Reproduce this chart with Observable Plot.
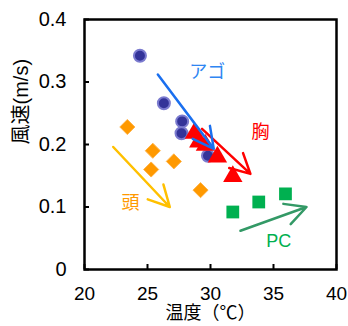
<!DOCTYPE html>
<html>
<head>
<meta charset="utf-8">
<script src="https://cdn.jsdelivr.net/npm/d3@7"></script>
<script src="https://cdn.jsdelivr.net/npm/@observablehq/plot@0.6"></script>
<style>
  html, body { margin: 0; padding: 0; background: white; }
</style>
</head>
<body>
<div id="chart"></div>
<script>
// Data (temperature °C, wind speed m/s)
const agoX = [24.4, 26.3, 27.75, 27.7, 29.8];
const agoY = [0.342, 0.266, 0.237, 0.218, 0.182];
const muneX = [28.73, 29.07, 29.6, 30.55, 31.77];
const muneY = [0.218, 0.204, 0.199, 0.18, 0.149];
const atamaX = [23.4, 25.42, 25.29, 27.09, 29.21];
const atamaY = [0.228, 0.19, 0.16, 0.173, 0.127];
const pcX = [31.77, 33.83, 35.95];
const pcY = [0.092, 0.108, 0.121];

// Trend arrows: [x1, y1, x2, y2]
const arrowAgo = [25.82, 0.312, 30.26, 0.193];
const arrowMune = [29.33, 0.225, 33.17, 0.153];
const arrowAtama = [22.28, 0.196, 26.77, 0.1];
const arrowPC = [32.38, 0.062, 37.62, 0.1];

// Group labels
const groupNames = ["アゴ", "胸", "頭", "PC"];
const labelX = [29.74, 33.97, 23.65, 35.42];
const labelY = [0.315, 0.22, 0.106, 0.046];

const xTicks = [20, 25, 30, 35, 40];
const yTicks = [0, 0.1, 0.2, 0.3, 0.4];
const xTitle = "温度（℃）";
const yTitle = "風速(m/s)";

const pts = (xs, ys) => xs.map((x, i) => ({x, y: ys[i]}));
const arr = a => [{x1: a[0], y1: a[1], x2: a[2], y2: a[3]}];
const labels = groupNames.map((t, i) => ({t, x: labelX[i], y: labelY[i]}));
const labelColors = ["#2f86f2", "#ff0000", "#ff9900", "#00b050"];

const W = 348, H = 326;
const mL = 84, mR = 12, mT = 19, mB = 57;
const innerW = W - mL - mR, innerH = H - mT - mB;

const chart = Plot.plot({
  width: W,
  height: H,
  marginLeft: mL,
  marginRight: mR,
  marginTop: mT,
  marginBottom: mB,
  style: {
    fontFamily: '"Liberation Sans", Arial, "Noto Sans CJK JP", sans-serif',
    fontSize: "19px",
    background: "white",
    color: "black",
    overflow: "visible"
  },
  x: {domain: [20, 40]},
  y: {domain: [0, 0.4]},
  marks: [
    Plot.axisX(xTicks, {tickSize: 0, tickPadding: 17, label: null, fontSize: 19}),
    Plot.axisY(yTicks, {tickSize: 0, tickPadding: 18, label: null, fontSize: 20,
      tickFormat: d => d === 0 ? "0" : d.toFixed(1)}),
    Plot.tickX(xTicks, {x: d => d, insetTop: innerH - 5, stroke: "black", strokeWidth: 2}),
    Plot.tickY(yTicks, {y: d => d, insetRight: innerW - 5, stroke: "black", strokeWidth: 2}),
    Plot.dot(pts(atamaX, atamaY), {x: "x", y: "y", symbol: "diamond2", r: 6.8, fill: "#ff9900", stroke: "#ffb347", strokeWidth: 1}),
    Plot.dot(pts(agoX, agoY), {x: "x", y: "y", r: 6, fill: "#333399", stroke: "#7b7bcf", strokeWidth: 2}),
    Plot.dot(pts(muneX, muneY), {x: "x", y: "y", symbol: "triangle", r: 7.2, fill: "#ff0000"}),
    Plot.dot(pts(pcX, pcY), {x: "x", y: "y", symbol: "square", r: 7.2, fill: "#00b050"}),
    Plot.arrow(arr(arrowMune), {x1: "x1", y1: "y1", x2: "x2", y2: "y2", stroke: "#ff0000", strokeWidth: 2.5, headLength: 14, headAngle: 55}),
    Plot.arrow(arr(arrowAgo), {x1: "x1", y1: "y1", x2: "x2", y2: "y2", stroke: "#1a6fef", strokeWidth: 2.5, headLength: 14, headAngle: 55}),
    Plot.arrow(arr(arrowAtama), {x1: "x1", y1: "y1", x2: "x2", y2: "y2", stroke: "#ffc000", strokeWidth: 2.5, headLength: 14, headAngle: 55}),
    Plot.arrow(arr(arrowPC), {x1: "x1", y1: "y1", x2: "x2", y2: "y2", stroke: "#339966", strokeWidth: 2.5, headLength: 14, headAngle: 55}),
    Plot.text(labels, {x: "x", y: "y", text: "t", fill: (d, i) => labelColors[i], fontSize: 18}),
    Plot.text([xTitle], {text: d => d, frameAnchor: "bottom", dy: 49, fontSize: 18, fill: "black"}),
    Plot.text([yTitle], {text: d => d, frameAnchor: "left", dx: -63, rotate: -90, fontSize: 20, fill: "black"}),
    Plot.frame({stroke: "black", strokeWidth: 2.5})
  ]
});
document.getElementById("chart").append(chart);
</script>
</body>
</html>
